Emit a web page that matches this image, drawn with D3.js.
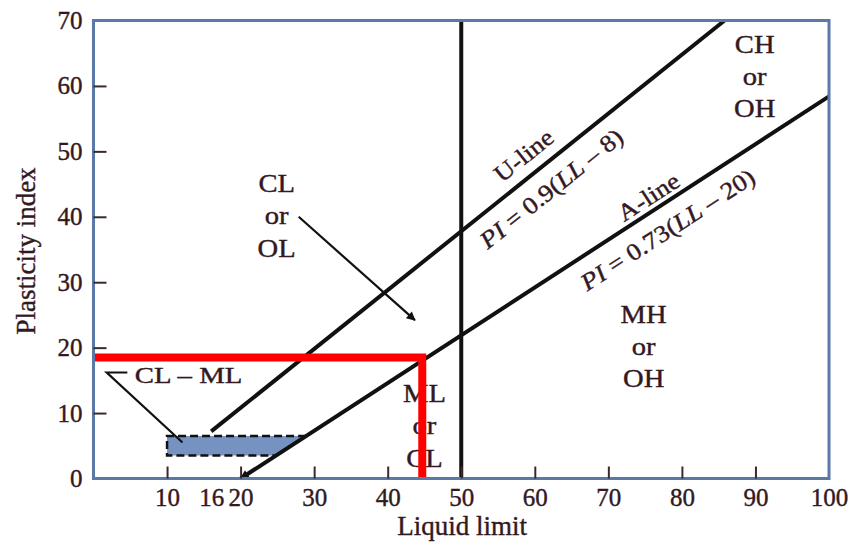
<!DOCTYPE html>
<html><head><meta charset="utf-8">
<script src="https://cdn.jsdelivr.net/npm/d3@7"></script>
<style>
html,body{margin:0;padding:0;background:#fff;}
svg{display:block;}
svg text{stroke:#33191f;stroke-width:0.4px;}
</style></head>
<body>
<svg id="chart" width="856" height="549"></svg>
<script>
// ---------- data ----------
const xTickLabels = [10, 16, 20, 30, 40, 50, 60, 70, 80, 90, 100];
const xTickMarks  = [10, 20, 30, 40, 50, 60, 70, 80, 90];
const yTickLabels = [0, 10, 20, 30, 40, 50, 60, 70];
const uLine = [{ll: 16, pi: 7.2}, {ll: 85.8, pi: 70}];     // PI = 0.9(LL - 8)
const aLine = [{ll: 20, pi: 0}, {ll: 100, pi: 58.4}];      // PI = 0.73(LL - 20)
const llDivider = [{ll: 50, pi: 0}, {ll: 50, pi: 70}];
const clmlZone = [{ll: 10, pi: 3.5}, {ll: 10, pi: 6.5}, {ll: 28.9, pi: 6.5}, {ll: 24.8, pi: 3.5}];
const redMarker = [{ll: 0, pi: 18.5}, {ll: 44.7, pi: 18.5}, {ll: 44.7, pi: 0}];
const regionLabels = [
  {lines: ["CL", "or", "OL"], ll: 24.9, pi: 43.8},
  {lines: ["CH", "or", "OH"], ll: 89.9, pi: 65.1},
  {lines: ["MH", "or", "OH"], ll: 74.8, pi: 23.8},
  {lines: ["ML", "or", "CL"], ll: 45.0, pi: 11.7}
];
const clolArrow = [{ll: 27.9, pi: 40.0}, {ll: 43.7, pi: 24.2}];
const clmlLeader = [{ll: 4.6, pi: 16.2}, {ll: 1.8, pi: 16.2}, {ll: 12.1, pi: 5.5}];
const clmlLabel = {text: "CL – ML", ll: 5.6, pi: 14.6};
const lineLabels = [
  {line: "u", ll: 60.2, off: 12, parts: [["U-line", false]]},
  {line: "u", ll: 60.3, off: -31, parts: [["PI", true], [" = 0.9(", false], ["LL", true], [" – 8)", false]]},
  {line: "a", ll: 76.5, off: 6, parts: [["A-line", false]]},
  {line: "a", ll: 76.3, off: -32, parts: [["PI", true], [" = 0.73(", false], ["LL", true], [" – 20)", false]]}
];
const xTitle = "Liquid limit";
const yTitle = "Plasticity index";

// ---------- setup ----------
const svg = d3.select("#chart");
const x = d3.scaleLinear().domain([0, 100]).range([93.5, 829]);
const y = d3.scaleLinear().domain([0, 70]).range([478.5, 20.5]);
const FONT = "'Liberation Serif','Times New Roman',serif";
const TXT = "#33191f";
const BLUE = "#5a79a8";

const defs = svg.append("defs");
defs.append("marker").attr("id", "arr").attr("viewBox", "0 0 10 10")
  .attr("refX", 9).attr("refY", 5).attr("markerWidth", 11).attr("markerHeight", 9)
  .attr("markerUnits", "userSpaceOnUse").attr("orient", "auto-start-reverse")
  .append("path").attr("d", "M0,0 L10,5 L0,10 z").attr("fill", "#111");

const line = d3.line().x(d => x(d.ll)).y(d => y(d.pi));

// zone fill
svg.append("path").datum(clmlZone).attr("d", line(clmlZone) + "Z")
  .attr("fill", "#7592c0").attr("stroke", "none");
// dashed border (top, left, bottom)
svg.append("path").datum(clmlZone)
  .attr("d", line([clmlZone[2], clmlZone[1], clmlZone[0], clmlZone[3]]))
  .attr("fill", "none").attr("stroke", "#111").attr("stroke-width", 2.5)
  .attr("stroke-dasharray", "8,4");

// main lines
svg.append("path").attr("d", line(uLine)).attr("stroke", "#111").attr("stroke-width", 4).attr("fill", "none");
svg.append("path").attr("d", line(aLine)).attr("stroke", "#111").attr("stroke-width", 4).attr("fill", "none")
  .attr("marker-start", "url(#arr)");
svg.append("path").attr("d", line(llDivider)).attr("stroke", "#111").attr("stroke-width", 4).attr("fill", "none");

// annotation arrows
svg.append("path").attr("d", line(clolArrow)).attr("stroke", "#111").attr("stroke-width", 2.2)
  .attr("fill", "none").attr("marker-end", "url(#arr)");
svg.append("path").attr("d", line(clmlLeader)).attr("stroke", "#111").attr("stroke-width", 2.2)
  .attr("fill", "none");

// text helper
function label(txt, px, py, opts = {}) {
  const t = svg.append("text")
    .attr("transform", `translate(${px},${py}) rotate(${opts.rot || 0}) scale(${opts.sx || 1.1},1)`)
    .attr("text-anchor", opts.anchor || "middle")
    .attr("font-family", FONT).attr("font-size", opts.size || 26)
    .attr("fill", TXT);
  if (Array.isArray(txt)) {
    txt.forEach(p => t.append("tspan").text(p[0]).attr("font-style", p[1] ? "italic" : "normal"));
  } else t.text(txt);
  return t;
}

// region labels
regionLabels.forEach(r => {
  r.lines.forEach((s, i) => label(s, x(r.ll), y(r.pi) + i * 32.3, {size: 26}));
});
label(clmlLabel.text, x(clmlLabel.ll), y(clmlLabel.pi), {size: 24, sx: 1.2, anchor: "start"});

// line labels
const lines = {u: uLine, a: aLine};
lineLabels.forEach(l => {
  const seg = lines[l.line];
  const t = (l.ll - seg[0].ll) / (seg[1].ll - seg[0].ll);
  const pi = seg[0].pi + t * (seg[1].pi - seg[0].pi);
  const ang = Math.atan2(y(seg[1].pi) - y(seg[0].pi), x(seg[1].ll) - x(seg[0].ll));
  const nx = Math.sin(ang), ny = -Math.cos(ang);
  const px = x(l.ll) + l.off * nx, py = y(pi) + l.off * ny;
  label(l.parts, px, py, {rot: ang * 180 / Math.PI, size: 24, sx: 1.12});
});

// red marker (on top)
svg.append("path").attr("d", line(redMarker)).attr("stroke", "#ff0000").attr("stroke-width", 8)
  .attr("fill", "none").attr("stroke-linejoin", "miter");

// frame
svg.append("rect").attr("x", x(0)).attr("y", y(70)).attr("width", x(100) - x(0)).attr("height", y(0) - y(70))
  .attr("fill", "none").attr("stroke", BLUE).attr("stroke-width", 3);

// axes
const xAxis = svg.append("g").attr("transform", `translate(0,${y(0)})`)
  .call(d3.axisBottom(x).tickValues(xTickLabels).tickSizeInner(-12).tickSizeOuter(0).tickPadding(10).tickFormat(d3.format("d")));
xAxis.select(".domain").remove();
xAxis.selectAll(".tick line").attr("stroke", "#3a2a2a").attr("stroke-width", 2)
  .attr("display", d => xTickMarks.includes(d) ? null : "none");
xAxis.selectAll(".tick text").attr("font-family", FONT).attr("font-size", 25).attr("fill", TXT);

const yAxis = svg.append("g").attr("transform", `translate(${x(0)},0)`)
  .call(d3.axisLeft(y).tickValues(yTickLabels).tickSizeInner(-13).tickSizeOuter(0).tickPadding(11).tickFormat(d3.format("d")));
yAxis.select(".domain").remove();
yAxis.selectAll(".tick line").attr("stroke", "#3a2a2a").attr("stroke-width", 2)
  .attr("display", d => (d === 0 || d === 70) ? "none" : null);
yAxis.selectAll(".tick text").attr("font-family", FONT).attr("font-size", 25).attr("fill", TXT);

// titles
svg.append("text").attr("x", (x(0) + x(100)) / 2 + 1).attr("y", 535).attr("text-anchor", "middle")
  .attr("font-family", FONT).attr("font-size", 27).attr("fill", TXT).text(xTitle);
svg.append("text").attr("transform", "translate(35,251) rotate(-90)").attr("text-anchor", "middle")
  .attr("font-family", FONT).attr("font-size", 27).attr("fill", TXT).text(yTitle);
</script>
</body></html>
